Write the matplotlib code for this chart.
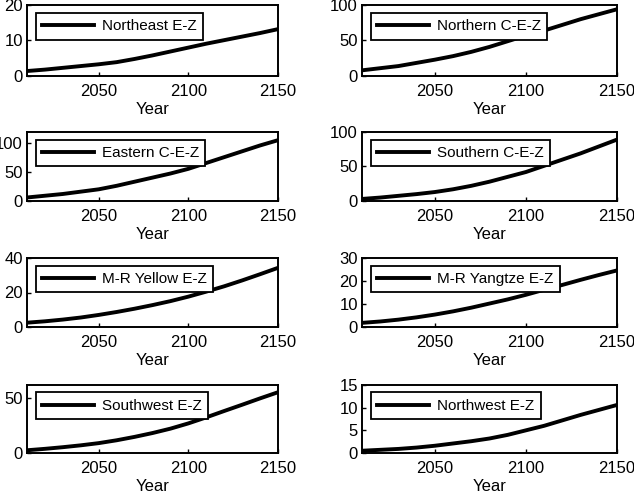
import matplotlib
matplotlib.use("Agg")
import matplotlib.pyplot as plt

plt.rcParams['font.family'] = ['Liberation Sans', 'DejaVu Sans']

anos = [2010, 2020, 2030, 2040, 2050, 2060, 2070, 2080, 2090, 2100, 2110, 2120, 2130, 2140, 2150]

northeast = [1.4, 1.8, 2.3, 2.8, 3.3, 3.9, 4.8, 5.8, 6.9, 8.0, 9.1, 10.1, 11.1, 12.1, 13.2]
northern = [8, 11, 14, 18.5, 23, 28, 34, 41, 49, 57, 64, 72, 80, 87, 94]
eastern = [6, 9, 12, 16, 20, 26, 33, 40, 47, 55, 65, 75, 85, 95, 104]
southern = [3, 5, 7.5, 10, 13, 17, 22, 28, 35, 42, 51, 60, 69, 79, 89]
yellow = [2.5, 3.3, 4.3, 5.5, 7, 8.7, 10.6, 12.7, 15, 17.6, 20.5, 23.6, 27, 30.6, 34.3]
yangtze = [1.8, 2.4, 3.2, 4.2, 5.4, 6.8, 8.4, 10.2, 12, 14, 16.2, 18.3, 20.5, 22.6, 24.6]
southwest = [2.5, 3.8, 5.3, 7, 9, 11.6, 14.7, 18.2, 22.2, 27, 32.5, 38.3, 44, 49.8, 55.4]
northwest = [0.5, 0.7, 0.9, 1.2, 1.6, 2.1, 2.6, 3.2, 4.0, 5.0, 6.0, 7.2, 8.4, 9.5, 10.6]

nomes = ['Northeast E-Z', 'Northern C-E-Z', 'Eastern C-E-Z', 'Southern C-E-Z',
         'M-R Yellow E-Z', 'M-R Yangtze E-Z', 'Southwest E-Z', 'Northwest E-Z']
series = [northeast, northern, eastern, southern, yellow, yangtze, southwest, northwest]
limites = [20, 100, 118, 100, 40, 30, 62, 15]
yticks = [[0, 10, 20], [0, 50, 100], [0, 50, 100], [0, 50, 100],
          [0, 20, 40], [0, 10, 20, 30], [0, 50], [0, 5, 10, 15]]
xticks = [2050, 2100, 2150]

W, H = 634, 494
fig = plt.figure(figsize=(W / 100, H / 100), dpi=100)

# posicoes em pixels (esquerda, direita) e (topo, base)
colunas = [(27, 278), (362, 617)]
linhas = [(5, 76), (132, 201), (258, 327), (385, 453)]

for i, (nome, valores) in enumerate(zip(nomes, series)):
    x0, x1 = colunas[i % 2]
    y0, y1 = linhas[i // 2]
    ax = fig.add_axes([x0 / W, 1 - y1 / H, (x1 - x0) / W, (y1 - y0) / H])
    ax.plot(anos, valores, color='black', linewidth=2.8, label=nome)
    ax.set_xlim(2010, 2150)
    ax.set_ylim(0, limites[i])
    ax.set_xticks(xticks)
    ax.set_yticks(yticks[i])
    ax.tick_params(direction='in', length=3, width=1, labelsize=12, pad=3)
    ax.tick_params(axis='x', pad=6)
    for s in ax.spines.values():
        s.set_linewidth(1.4)
    ax.set_xlabel('Year', fontsize=12, labelpad=2)
    leg = ax.legend(loc='upper left', fontsize=11, handlelength=3.4, fancybox=False,
                    borderpad=0.42, bbox_to_anchor=(0.035, 0.89), borderaxespad=0,
                    handletextpad=0.5)
    leg.get_frame().set_edgecolor('black')
    leg.get_frame().set_linewidth(1.3)
    leg.get_frame().set_alpha(1)

fig.savefig('out.png', dpi=100)
